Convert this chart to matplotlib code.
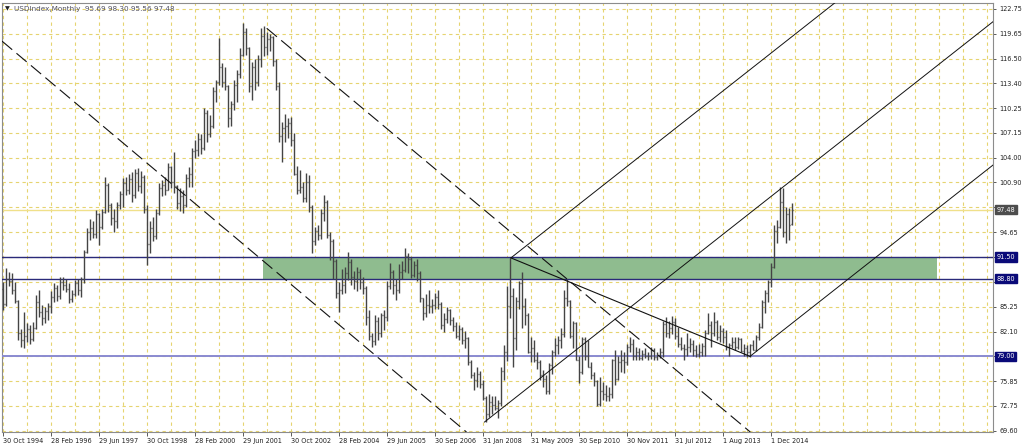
import matplotlib
matplotlib.use('Agg')
import matplotlib.pyplot as plt
from matplotlib.collections import LineCollection
from matplotlib.patches import Rectangle

opens = [
87.5, 85.6, 88.8, 88.5, 87.3, 86.0, 82.0, 81.0, 81.6, 82.5,
81.2, 82.6, 85.9, 84.6, 83.8, 84.7, 85.3, 86.5, 87.6, 86.6,
88.4, 88.0, 87.5, 86.2, 86.9, 88.2, 87.3, 88.8, 92.2, 94.6,
95.2, 94.4, 96.9, 95.3, 97.2, 100.6, 98.0, 96.4, 96.0, 98.0,
99.4, 100.8, 100.0, 101.3, 99.3, 102.1, 100.5, 101.6, 97.6, 93.2,
95.2, 94.2, 97.0, 100.2, 100.6, 100.0, 102.8, 101.0, 100.5, 98.3,
99.2, 98.0, 101.5, 102.0, 104.8, 105.0, 106.4, 105.2, 109.6, 107.0,
108.0, 112.4, 113.5, 115.4, 113.5, 113.0, 109.0, 110.8, 113.2, 114.5,
117.0, 119.8, 117.8, 113.0, 115.5, 113.5, 116.5, 119.3, 118.0, 119.0,
119.2, 116.2, 113.0, 106.8, 107.8, 108.0, 108.4, 106.3, 102.0, 100.0,
100.3, 99.0, 101.0, 97.8, 93.5, 94.8, 94.3, 97.0, 98.5, 94.3,
93.5, 91.0, 87.0, 87.4, 88.0, 89.5, 90.9, 89.0, 88.5, 89.6,
88.4, 87.6, 84.0, 81.6, 80.9, 83.5, 82.0, 84.2, 84.0, 87.9,
89.6, 88.0, 87.3, 89.6, 89.9, 91.6, 91.2, 89.3, 90.5, 89.5,
86.3, 84.5, 85.5, 85.3, 85.5, 86.5, 85.6, 83.0, 83.7, 84.9,
83.6, 82.8, 81.6, 82.5, 81.0, 81.3, 78.3, 76.6, 76.0, 76.8,
75.5, 73.8, 71.8, 73.3, 72.9, 72.5, 73.1, 77.2, 79.6, 85.4,
86.6, 81.3, 86.0, 88.2, 85.3, 84.2, 79.6, 80.1, 78.6, 78.3,
76.6, 76.2, 74.7, 77.9, 79.5, 80.4, 81.0, 81.8, 86.3, 86.0,
81.6, 83.2, 78.6, 77.0, 81.2, 79.0, 77.7, 76.7, 75.9, 73.0,
74.6, 74.3, 74.0, 74.2, 78.6, 76.2, 78.3, 78.5, 78.3, 80.2,
80.5, 79.0, 79.5, 78.8, 79.3, 79.1, 79.0, 79.8, 78.9, 79.2,
79.5, 83.1, 82.0, 82.6, 83.3, 81.6, 80.5, 80.0, 79.9, 80.2,
80.6, 79.8, 79.3, 79.6, 80.3, 82.0, 83.0, 82.0, 83.3, 81.5,
82.2, 81.5, 80.2, 80.4, 80.8, 80.2, 81.2, 79.7, 80.1, 79.5,
80.4, 79.8, 81.5, 82.7, 85.9, 87.0, 88.4, 90.3, 94.8, 95.3,
98.4, 94.6, 96.9, 95.69]

highs = [
88.4, 90.1, 89.6, 89.5, 88.4, 86.1, 82.4, 84.6, 83.2, 83.0,
83.3, 86.7, 87.4, 85.5, 85.2, 85.7, 87.2, 88.2, 88.0, 89.0,
89.0, 88.8, 88.2, 87.3, 88.6, 88.7, 89.0, 92.4, 95.2, 96.3,
96.0, 97.4, 97.0, 97.5, 101.6, 100.8, 98.3, 97.6, 98.4, 99.8,
101.5, 101.6, 102.0, 102.2, 102.6, 102.7, 102.4, 101.9, 98.0, 96.0,
96.6, 97.5, 100.8, 101.2, 101.6, 103.4, 103.0, 104.7, 100.6, 100.2,
100.0, 102.0, 102.8, 105.3, 106.2, 107.1, 107.0, 110.3, 110.0, 109.4,
112.9, 113.8, 119.1, 116.0, 115.4, 113.2, 111.2, 113.8, 115.0, 117.8,
121.0, 120.4, 117.9, 116.1, 116.5, 117.0, 120.4, 120.6, 119.8, 119.6,
119.4, 116.5, 113.5, 108.5, 109.5, 109.0, 109.2, 107.1, 103.0, 102.5,
101.0, 102.1, 101.8, 98.0, 95.3, 95.5, 97.5, 99.3, 98.7, 94.6,
93.8, 91.2, 88.4, 90.0, 90.3, 92.1, 91.3, 89.8, 90.2, 90.0,
89.0, 87.8, 84.8, 82.0, 84.2, 84.0, 84.5, 84.8, 88.5, 90.8,
89.9, 88.8, 90.6, 91.0, 92.6, 92.0, 91.5, 91.0, 91.2, 89.7,
86.4, 86.8, 87.4, 86.2, 87.0, 87.3, 85.8, 84.5, 85.2, 85.0,
84.0, 83.3, 82.9, 82.7, 82.2, 81.4, 78.6, 77.0, 77.7, 77.1,
76.0, 74.0, 74.2, 74.0, 74.0, 73.5, 77.7, 80.4, 87.9, 91.4,
87.6, 86.5, 88.5, 89.6, 86.4, 84.4, 81.4, 81.0, 79.6, 78.5,
77.3, 76.6, 78.2, 79.8, 81.3, 81.6, 82.6, 87.4, 88.7, 86.1,
83.4, 83.3, 79.0, 81.4, 81.4, 81.0, 78.3, 77.0, 76.0, 76.4,
75.8, 75.4, 75.1, 78.7, 79.8, 79.0, 79.8, 79.6, 80.5, 81.4,
81.2, 80.2, 80.0, 79.8, 80.1, 79.6, 80.2, 80.0, 79.6, 80.0,
83.5, 84.0, 83.5, 84.1, 83.8, 82.7, 81.4, 80.6, 82.0, 81.3,
81.0, 80.4, 80.6, 80.7, 82.3, 84.5, 83.5, 84.6, 83.6, 83.0,
82.6, 82.3, 80.7, 81.4, 81.5, 81.4, 81.3, 80.6, 80.4, 80.6,
81.0, 81.7, 83.2, 86.1, 87.4, 88.6, 90.8, 95.5, 96.2, 100.3,
100.2, 97.8, 97.7, 98.30]

lows = [
84.8, 85.4, 87.9, 86.8, 85.7, 81.1, 80.2, 80.1, 80.8, 80.6,
80.9, 82.4, 84.0, 83.0, 83.2, 83.6, 84.5, 85.8, 86.0, 86.2,
87.3, 87.1, 85.7, 85.8, 86.6, 86.7, 86.5, 88.2, 92.0, 93.7,
93.9, 93.9, 93.0, 95.0, 97.0, 97.2, 95.5, 94.7, 95.2, 97.6,
97.8, 99.3, 99.5, 98.4, 99.0, 99.8, 99.6, 97.1, 90.5, 92.0,
93.5, 93.8, 96.8, 99.2, 99.3, 99.9, 100.2, 99.6, 97.5, 97.3,
97.0, 97.8, 100.3, 100.3, 104.0, 104.2, 104.5, 105.0, 106.0, 106.6,
107.8, 111.0, 113.2, 112.9, 112.5, 107.9, 108.0, 110.0, 111.0, 114.1,
116.8, 117.0, 112.3, 111.3, 112.5, 113.0, 115.4, 116.8, 117.0, 117.5,
115.6, 112.5, 106.0, 103.5, 106.0, 106.5, 105.5, 101.8, 99.5, 99.6,
98.4, 98.4, 97.2, 92.0, 93.0, 93.7, 93.8, 96.0, 93.9, 91.1,
88.8, 86.3, 84.6, 86.8, 87.0, 88.6, 88.0, 87.5, 87.2, 87.5,
86.8, 83.0, 81.0, 80.2, 80.4, 81.0, 81.5, 82.3, 83.5, 87.5,
86.9, 86.1, 87.0, 88.8, 89.6, 89.5, 88.9, 89.0, 88.5, 85.9,
83.6, 84.0, 84.5, 84.4, 85.0, 85.0, 82.5, 82.1, 83.2, 83.0,
82.2, 81.3, 81.1, 80.5, 80.0, 77.9, 76.3, 74.8, 75.2, 75.0,
73.5, 70.7, 71.4, 71.8, 72.2, 71.3, 72.8, 76.0, 78.4, 83.8,
77.7, 79.8, 85.0, 82.6, 82.9, 79.4, 78.3, 78.3, 77.4, 76.0,
75.2, 74.2, 74.2, 76.8, 79.0, 79.3, 80.1, 81.5, 85.3, 81.3,
80.1, 78.5, 75.6, 76.8, 78.6, 77.6, 76.2, 75.3, 72.8, 72.7,
73.5, 73.4, 73.4, 73.7, 75.4, 76.0, 77.0, 76.9, 77.9, 79.5,
78.5, 78.6, 78.5, 78.6, 78.8, 78.6, 78.7, 78.6, 78.6, 78.8,
78.9, 81.5, 81.3, 81.8, 81.2, 80.2, 79.8, 78.6, 79.0, 79.6,
79.0, 78.9, 78.9, 79.1, 79.1, 81.8, 80.2, 81.6, 81.1, 80.8,
80.7, 79.8, 79.0, 80.0, 79.8, 79.9, 79.6, 79.0, 78.9, 78.9,
79.8, 79.7, 81.1, 82.6, 84.5, 85.9, 87.7, 90.1, 93.3, 95.2,
94.0, 93.3, 93.6, 95.56]

closes = [
85.6, 88.8, 88.5, 87.3, 86.0, 82.0, 81.0, 81.6, 82.5, 81.2,
82.6, 85.9, 84.6, 83.8, 84.7, 85.3, 86.5, 87.6, 86.6, 88.4,
88.0, 87.5, 86.2, 86.9, 88.2, 87.3, 88.8, 92.2, 94.6, 95.2,
94.4, 96.9, 95.3, 97.2, 100.6, 98.0, 96.4, 96.0, 98.0, 99.4,
100.8, 100.0, 101.3, 99.3, 102.1, 100.5, 101.6, 97.6, 93.2, 95.2,
94.2, 97.0, 100.2, 100.6, 100.0, 102.8, 101.0, 100.5, 98.3, 99.2,
98.0, 101.5, 102.0, 104.8, 105.0, 106.4, 105.2, 109.6, 107.0, 108.0,
112.4, 113.5, 115.4, 113.5, 113.0, 109.0, 110.8, 113.2, 114.5, 117.0,
119.8, 117.8, 113.0, 115.5, 113.5, 116.5, 119.3, 118.0, 119.0, 119.2,
116.2, 113.0, 106.8, 107.8, 108.0, 108.4, 106.3, 102.0, 100.0, 100.3,
99.0, 101.0, 97.8, 93.5, 94.8, 94.3, 97.0, 98.5, 94.3, 93.5,
91.0, 87.0, 87.4, 88.0, 89.5, 90.9, 89.0, 88.5, 89.6, 88.4,
87.6, 84.0, 81.6, 80.9, 83.5, 82.0, 84.2, 84.0, 87.9, 89.6,
88.0, 87.3, 89.6, 89.9, 91.6, 91.2, 89.3, 90.5, 89.5, 86.3,
84.5, 85.5, 85.3, 85.5, 86.5, 85.6, 83.0, 83.7, 84.9, 83.6,
82.8, 81.6, 82.5, 81.0, 81.3, 78.3, 76.6, 76.0, 76.8, 75.5,
73.8, 71.8, 73.3, 72.9, 72.5, 73.1, 77.2, 79.6, 85.4, 86.6,
81.3, 86.0, 88.2, 85.3, 84.2, 79.6, 80.1, 78.6, 78.3, 76.6,
76.2, 74.7, 77.9, 79.5, 80.4, 81.0, 81.8, 86.3, 86.0, 81.6,
83.2, 78.6, 77.0, 81.2, 79.0, 77.7, 76.7, 75.9, 73.0, 74.6,
74.3, 74.0, 74.2, 78.6, 76.2, 78.3, 78.5, 78.3, 80.2, 80.5,
79.0, 79.5, 78.8, 79.3, 79.1, 79.0, 79.8, 78.9, 79.2, 79.5,
83.1, 82.0, 82.6, 83.3, 81.6, 80.5, 80.0, 79.9, 80.2, 80.6,
79.8, 79.3, 79.6, 80.3, 82.0, 83.0, 82.0, 83.3, 81.5, 82.2,
81.5, 80.2, 80.4, 80.8, 80.2, 81.2, 79.7, 80.1, 79.5, 80.4,
79.8, 81.5, 82.7, 85.9, 87.0, 88.4, 90.3, 94.8, 95.3, 98.4,
94.6, 96.9, 95.6, 97.48]

assert len(opens) == len(highs) == len(lows) == len(closes)

xtick_pos = [0, 16, 32, 48, 64, 80, 96, 112, 128, 144, 160, 176, 192, 208, 224, 240, 256]
xtick_labels = ['30 Oct 1994', '28 Feb 1996', '29 Jun 1997', '30 Oct 1998', '28 Feb 2000',
                '29 Jun 2001', '30 Oct 2002', '28 Feb 2004', '29 Jun 2005', '30 Sep 2006',
                '31 Jan 2008', '31 May 2009', '30 Sep 2010', '30 Nov 2011', '31 Jul 2012',
                '1 Aug 2013', '1 Dec 2014']
ytick_labels = ['69.60', '72.75', '75.85', '79.00', '82.10', '85.25', '88.40', '91.50', '94.65',
                '97.75', '100.90', '104.00', '107.15', '110.25', '113.40', '116.50', '119.65', '122.75']
hidden_ylabels = ['79.00', '88.40', '91.50', '97.75']

level_values = [91.50, 88.80, 79.00]
level_colors = ['#2a2a7a', '#2a2a7a', '#8a8ad0']
current_price = 97.48
price_tags = ['97.48', '91.50', '88.80', '79.00']
tag_colors = ['#4d4d4d', '#0a0a78', '#0a0a78', '#0a0a78']

zone = (86.7, 311.3, 88.80, 91.50)              # rectangle: x0, x1, y0, y1
channel_a = [(-0.33, 118.7), (154.5, 69.47)]       # dashed channel lines
channel_b = [(87.9, 120.32), (249.1, 69.47)]
fork_p1 = (160.5, 70.73)
fork_p2 = (169.3, 91.40)
fork_p3 = (249.0, 79.00)
title = 'USDIndex,Monthly  95.69 98.30 95.56 97.48'

XMIN, XMAX = -0.333, 330.0
YMIN, YMAX = 69.474, 123.50

fig = plt.figure(figsize=(10.24, 4.47), dpi=100)
fig.patch.set_facecolor('white')
ax = fig.add_axes([2 / 1024, 15 / 447, 991 / 1024, 429 / 447])
ax.set_xlim(XMIN, XMAX)
ax.set_ylim(YMIN, YMAX)
ax.set_facecolor('white')

grid_c = '#e6d470'
for k in range(0, 331, 8):
    ax.axvline(k, color=grid_c, lw=0.8, ls=(0, (3, 3)), zorder=0)
for lab in ytick_labels:
    ax.axhline(float(lab), color=grid_c, lw=0.8, ls=(0, (3, 3)), zorder=0)

ax.add_patch(Rectangle((zone[0], zone[2]), zone[1] - zone[0], zone[3] - zone[2],
                       facecolor='#8fbc8f', edgecolor='none', zorder=1))

ax.axhline(current_price, color='#f0e08a', lw=1.0, zorder=1.5)
for v, c in zip(level_values, level_colors):
    ax.axhline(v, color=c, lw=1.0 if v != 79.00 else 1.4, zorder=3)

# OHLC bars
segs = []
for i, (o, h, l, c) in enumerate(zip(opens, highs, lows, closes)):
    segs.append([(i, l), (i, h)])
    segs.append([(i - 0.34, o), (i, o)])
    segs.append([(i, c), (i + 0.34, c)])
ax.add_collection(LineCollection(segs, colors='#444444', linewidths=1.0, zorder=4))

# dashed channel lines
for ln in (channel_a, channel_b):
    ax.plot([ln[0][0], ln[1][0]], [ln[0][1], ln[1][1]], color='#111111', lw=0.8,
            ls=(0, (12, 5)), zorder=5)

# pitchfork
mx = (fork_p2[0] + fork_p3[0]) / 2
my = (fork_p2[1] + fork_p3[1]) / 2
slope = (my - fork_p1[1]) / (mx - fork_p1[0])
for px, py in (fork_p1, fork_p2, fork_p3):
    ax.plot([px, XMAX], [py, py + slope * (XMAX - px)], color='#111111', lw=0.7, zorder=5)
ax.plot([fork_p2[0], fork_p3[0]], [fork_p2[1], fork_p3[1]], color='#111111', lw=0.8, zorder=5)

# axes styling
for s in ax.spines.values():
    s.set_color('#8c8c8c')
    s.set_linewidth(0.8)
ax.set_xticks(xtick_pos)
ax.set_xticklabels(xtick_labels)
for t in ax.get_xticklabels():
    t.set_horizontalalignment('left')
ax.tick_params(axis='x', length=3, width=0.6, color='#404040', pad=1.5,
               labelsize=4.7, labelcolor='#202020')
ax.yaxis.tick_right()
ax.set_yticks([float(l) for l in ytick_labels])
ax.set_yticklabels(['' if l in hidden_ylabels else l for l in ytick_labels])
ax.tick_params(axis='y', length=2.5, width=0.6, color='#404040', pad=2,
               labelsize=4.7, labelcolor='#202020')

for txt, fc in zip(price_tags, tag_colors):
    ax.text(1.0035, float(txt), txt, transform=ax.get_yaxis_transform(), fontsize=4.7,
            color='white', va='center', ha='left', clip_on=False, zorder=10,
            bbox=dict(boxstyle='square,pad=0.25', fc=fc, ec=fc))

fig.text(5 / 1024, 1 - 9 / 447, '\u25bc', fontsize=4.5, color='#202020', va='center', ha='left')
fig.text(14 / 1024, 1 - 9 / 447, title, fontsize=5.2, color='#505060', va='center', ha='left')

fig.savefig('out.png', dpi=100, facecolor='white')
